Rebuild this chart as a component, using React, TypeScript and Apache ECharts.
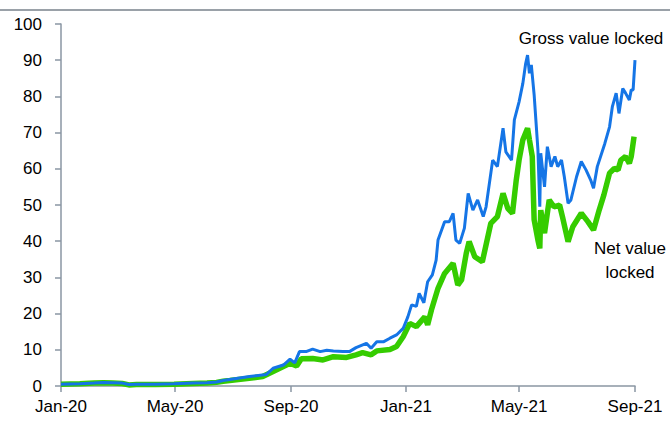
import React, { useEffect, useRef } from "react";
import * as echarts from "echarts";

const tickDates = ["2020-01-01", "2020-05-01", "2020-09-01", "2021-01-01", "2021-05-01", "2021-09-01"];
const tickLabels = ["Jan-20", "May-20", "Sep-20", "Jan-21", "May-21", "Sep-21"];

const grossDates = [
  "2020-01-01", "2020-01-21", "2020-02-05", "2020-02-15", "2020-02-25", "2020-03-06", "2020-03-13", "2020-03-21",
  "2020-04-10", "2020-04-30", "2020-05-20", "2020-06-04", "2020-06-14", "2020-06-21", "2020-06-28", "2020-07-19",
  "2020-08-06", "2020-08-13", "2020-08-24", "2020-08-31", "2020-09-05", "2020-09-10", "2020-09-17", "2020-09-24",
  "2020-10-02", "2020-10-09", "2020-10-16", "2020-10-26", "2020-11-02", "2020-11-09", "2020-11-20", "2020-11-25",
  "2020-12-01", "2020-12-08", "2020-12-15", "2020-12-22", "2020-12-29", "2021-01-03", "2021-01-07", "2021-01-12",
  "2021-01-15", "2021-01-20", "2021-01-24", "2021-01-29", "2021-02-02", "2021-02-04", "2021-02-11", "2021-02-16",
  "2021-02-20", "2021-02-23", "2021-02-27", "2021-03-04", "2021-03-08", "2021-03-13", "2021-03-18", "2021-03-24",
  "2021-03-27", "2021-04-03", "2021-04-08", "2021-04-14", "2021-04-17", "2021-04-23", "2021-04-26", "2021-05-01",
  "2021-05-05", "2021-05-08", "2021-05-10", "2021-05-12", "2021-05-14", "2021-05-17", "2021-05-21", "2021-05-23",
  "2021-05-24", "2021-05-28", "2021-05-31", "2021-06-04", "2021-06-08", "2021-06-11", "2021-06-15", "2021-06-18",
  "2021-06-22", "2021-06-25", "2021-07-01", "2021-07-06", "2021-07-11", "2021-07-16", "2021-07-19", "2021-07-23",
  "2021-07-31", "2021-08-05", "2021-08-08", "2021-08-12", "2021-08-15", "2021-08-19", "2021-08-22", "2021-08-26",
  "2021-08-28", "2021-08-30", "2021-09-01",
];
const grossValues = [
  0.5, 0.6, 0.8, 1.0, 0.9, 0.8, 0.4, 0.5,
  0.5, 0.6, 0.8, 0.9, 1.1, 1.5, 1.8, 2.6,
  3.2, 4.9, 5.8, 7.4, 6.4, 9.5, 9.5, 10.2,
  9.5, 9.9, 9.7, 9.5, 9.5, 10.6, 11.8, 10.4,
  12.2, 12.2, 13.2, 14.1, 15.9, 19.1, 22.4, 22.0,
  25.6, 23.0, 28.8, 30.7, 34.8, 40.3, 45.4, 45.4,
  47.7, 40.3, 39.4, 43.6, 53.2, 48.6, 51.4, 46.8,
  49.5, 62.4, 60.6, 71.2, 64.7, 62.4, 73.5, 78.5,
  83.6, 89.1, 91.4, 86.4, 88.7, 80.4, 65.2, 49.5,
  64.3, 55.0, 66.1, 60.6, 63.4, 60.6, 62.4, 57.8,
  50.5, 51.4, 57.8, 62.0, 59.7, 56.9, 54.6, 60.6,
  67.0, 71.6, 77.2, 80.9, 75.3, 82.2, 80.9, 79.0,
  81.8, 81.8, 90.0,
];

const netDates = [
  "2020-01-01", "2020-01-21", "2020-02-05", "2020-02-15", "2020-02-25", "2020-03-06", "2020-03-13", "2020-03-21",
  "2020-04-10", "2020-04-30", "2020-05-20", "2020-06-04", "2020-06-14", "2020-06-21", "2020-06-28", "2020-08-02",
  "2020-08-13", "2020-08-31", "2020-09-07", "2020-09-12", "2020-09-24", "2020-10-05", "2020-10-16", "2020-10-30",
  "2020-11-09", "2020-11-16", "2020-11-25", "2020-12-01", "2020-12-15", "2020-12-22", "2020-12-29", "2021-01-05",
  "2021-01-12", "2021-01-21", "2021-01-24", "2021-01-28", "2021-02-04", "2021-02-11", "2021-02-20", "2021-02-25",
  "2021-03-01", "2021-03-06", "2021-03-09", "2021-03-15", "2021-03-23", "2021-04-01", "2021-04-08", "2021-04-14",
  "2021-04-19", "2021-04-24", "2021-04-28", "2021-05-01", "2021-05-05", "2021-05-10", "2021-05-12", "2021-05-15",
  "2021-05-17", "2021-05-21", "2021-05-23", "2021-05-24", "2021-05-28", "2021-06-02", "2021-06-07", "2021-06-13",
  "2021-06-16", "2021-06-22", "2021-06-27", "2021-07-06", "2021-07-13", "2021-07-19", "2021-07-25", "2021-07-30",
  "2021-08-05", "2021-08-10", "2021-08-14", "2021-08-17", "2021-08-22", "2021-08-26", "2021-08-28", "2021-08-31",
];
const netValues = [
  0.5, 0.6, 0.8, 0.9, 0.8, 0.7, 0.3, 0.4,
  0.4, 0.5, 0.7, 0.8, 1.0, 1.3, 1.5, 2.6,
  4.0, 6.3, 5.5, 7.5, 7.6, 7.2, 8.1, 7.9,
  8.6, 9.2, 8.6, 9.7, 10.1, 10.9, 13.6, 17.3,
  16.4, 19.1, 16.9, 21.0, 27.0, 31.1, 33.9, 27.9,
  29.3, 36.7, 39.9, 35.7, 34.3, 44.9, 46.8, 53.2,
  49.1, 47.7, 56.9, 62.4, 68.0, 71.2, 68.0, 63.4,
  45.9, 40.3, 38.0, 48.6, 42.2, 51.4, 49.5, 50.0,
  46.8, 39.9, 44.0, 47.7, 45.4, 43.1, 48.6, 52.8,
  58.8, 60.1, 59.7, 62.4, 63.4, 61.5, 63.4, 68.9,
];

const toTs = (s: string) => {
  const [y, m, d] = s.split("-").map(Number);
  return Date.UTC(y, m - 1, d);
};

const FONT = "'Liberation Sans', Arial, sans-serif";
const AXIS_COLOR = "#8a96a3";

export default function App() {
  const ref = useRef<HTMLDivElement>(null);

  useEffect(() => {
    if (!ref.current) return;
    const chart = echarts.init(ref.current, undefined, { renderer: "svg" });
    const tickTs = tickDates.map(toTs);
    const labelFor = (v: number) => {
      let best = 0;
      let bd = Infinity;
      tickTs.forEach((t, i) => {
        const d = Math.abs(t - v);
        if (d < bd) {
          bd = d;
          best = i;
        }
      });
      return tickLabels[best];
    };
    chart.setOption({
      animation: false,
      backgroundColor: "#ffffff",
      grid: { left: 61, right: 35, top: 24, bottom: 37, containLabel: false },
      xAxis: {
        type: "value",
        min: tickTs[0],
        max: tickTs[tickTs.length - 1],
        axisLine: { show: true, onZero: false, lineStyle: { color: AXIS_COLOR, width: 1.5 } },
        axisTick: { show: true, length: 6, lineStyle: { color: AXIS_COLOR, width: 1.5 }, customValues: tickTs },
        axisLabel: {
          customValues: tickTs,
          formatter: (v: number) => labelFor(v),
          color: "#000",
          fontSize: 17,
          fontFamily: FONT,
          margin: 12,
          showMinLabel: true,
          showMaxLabel: true,
        },
        splitLine: { show: false },
      },
      yAxis: {
        type: "value",
        min: 0,
        max: 100,
        interval: 10,
        axisLine: { show: true, lineStyle: { color: AXIS_COLOR, width: 1.5 } },
        axisTick: { show: true, length: 6, lineStyle: { color: AXIS_COLOR, width: 1.5 } },
        axisLabel: { color: "#000", fontSize: 17, fontFamily: FONT, margin: 19 },
        splitLine: { show: false },
      },
      series: [
        {
          name: "Net value locked",
          type: "line",
          data: netDates.map((d, i) => [toTs(d), netValues[i]]),
          showSymbol: false,
          symbol: "none",
          lineStyle: { color: "#35cc00", width: 5.5 },
          z: 2,
        },
        {
          name: "Gross value locked",
          type: "line",
          data: grossDates.map((d, i) => [toTs(d), grossValues[i]]),
          showSymbol: false,
          symbol: "none",
          lineStyle: { color: "#1575e6", width: 3 },
          z: 3,
        },
      ],
      graphic: [
        {
          type: "line",
          shape: { x1: 0, y1: 10, x2: 670, y2: 10 },
          style: { stroke: "#9aa1a8", lineWidth: 2 },
        },
        {
          type: "text",
          x: 591,
          y: 38,
          style: {
            text: "Gross value locked",
            fill: "#000",
            font: `17px ${FONT}`,
            textAlign: "center",
            textVerticalAlign: "middle",
          },
        },
        {
          type: "text",
          x: 630,
          y: 260,
          style: {
            text: "Net value\nlocked",
            fill: "#000",
            font: `17px ${FONT}`,
            lineHeight: 24,
            textAlign: "center",
            textVerticalAlign: "middle",
          },
        },
      ],
    });
    return () => chart.dispose();
  }, []);

  return (
    <div
      ref={ref}
      style={{ position: "fixed", left: 0, top: 0, width: 670, height: 423, background: "#fff" }}
    />
  );
}
